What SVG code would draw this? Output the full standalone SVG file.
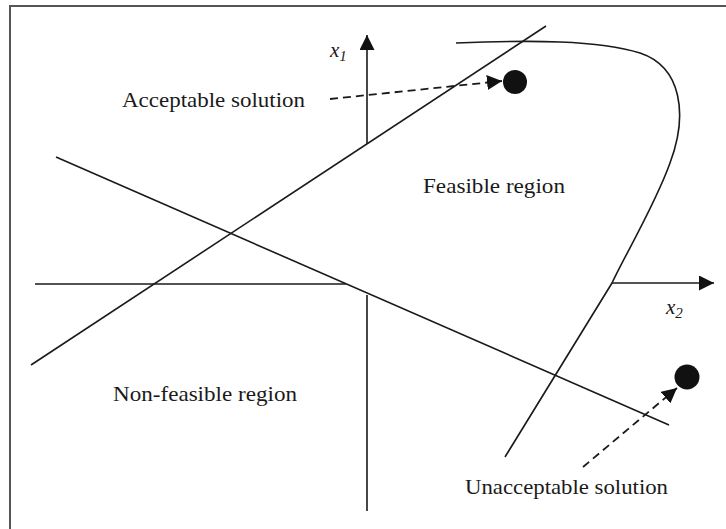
<svg xmlns="http://www.w3.org/2000/svg" width="726" height="529" viewBox="0 0 726 529">
  <defs>
    <marker id="head" viewBox="0 0 10 10" refX="10" refY="5" markerWidth="15" markerHeight="15" markerUnits="userSpaceOnUse" orient="auto">
      <path d="M0,0 L10,5 L0,10 Z" fill="#111"/>
    </marker>
    <style>
      .ln { stroke: #1a1a1a; stroke-width: 1.6; fill: none; }
      .dash { stroke: #1a1a1a; stroke-width: 1.8; fill: none; stroke-dasharray: 8 5; }
      .lbl { font-family: "Liberation Serif", "Times New Roman", serif; font-size: 22px; fill: #1a1a1a; }
      .var { font-family: "Liberation Serif", "Times New Roman", serif; font-style: italic; font-size: 21px; fill: #1a1a1a; }
      .dot { fill: #111; }
    </style>
  </defs>
  <rect width="726" height="529" fill="#fff"/>
  <!-- frame: top and left edges -->
  <path d="M10,529 L10,6 L726,6" stroke="#555" stroke-width="2" fill="none"/>

  <g id="connectors">
    <!-- axes -->
    <line id="x2-axis-left" class="ln" x1="35" y1="284" x2="346" y2="284"/>
    <line id="x2-axis-right" class="ln" x1="612" y1="283" x2="714" y2="283" marker-end="url(#head)"/>
    <line id="x1-axis-top" class="ln" x1="367" y1="144" x2="367" y2="35" marker-end="url(#head)"/>
    <line id="x1-axis-bottom" class="ln" x1="367" y1="295" x2="367" y2="511"/>
    <!-- constraint lines -->
    <line id="constraint-a" class="ln" x1="31" y1="365" x2="546" y2="26"/>
    <line id="constraint-b" class="ln" x1="56" y1="157" x2="669" y2="425"/>
    <!-- boundary curve -->
    <path id="boundary" class="ln" d="M456,43 C530,40 598,40 640,53 C682,67 688,115 670,163 C655,205 625,255 612,283 L505,457"/>
    <!-- solution pointers -->
    <line id="to-acceptable" class="dash" x1="330" y1="99" x2="502" y2="81" marker-end="url(#head)"/>
    <line id="to-unacceptable" class="dash" x1="583" y1="467" x2="677" y2="388" marker-end="url(#head)"/>
  </g>

  <g id="acceptable-solution">
    <circle class="dot" cx="515" cy="82" r="12"/>
    <text class="lbl" x="122" y="107" textLength="183" lengthAdjust="spacingAndGlyphs">Acceptable solution</text>
  </g>
  <g id="unacceptable-solution">
    <circle class="dot" cx="687" cy="377" r="12.5"/>
    <text class="lbl" x="465" y="494" textLength="203" lengthAdjust="spacingAndGlyphs">Unacceptable solution</text>
  </g>
  <g id="feasible-region">
    <text class="lbl" x="423" y="193" textLength="142" lengthAdjust="spacingAndGlyphs">Feasible region</text>
  </g>
  <g id="non-feasible-region">
    <text class="lbl" x="113" y="401" textLength="184" lengthAdjust="spacingAndGlyphs">Non-feasible region</text>
  </g>
  <g id="x1-label">
    <text class="var" x="330" y="57">x<tspan font-size="15" dy="4">1</tspan></text>
  </g>
  <g id="x2-label">
    <text class="var" x="666" y="314">x<tspan font-size="15" dy="4">2</tspan></text>
  </g>
</svg>
